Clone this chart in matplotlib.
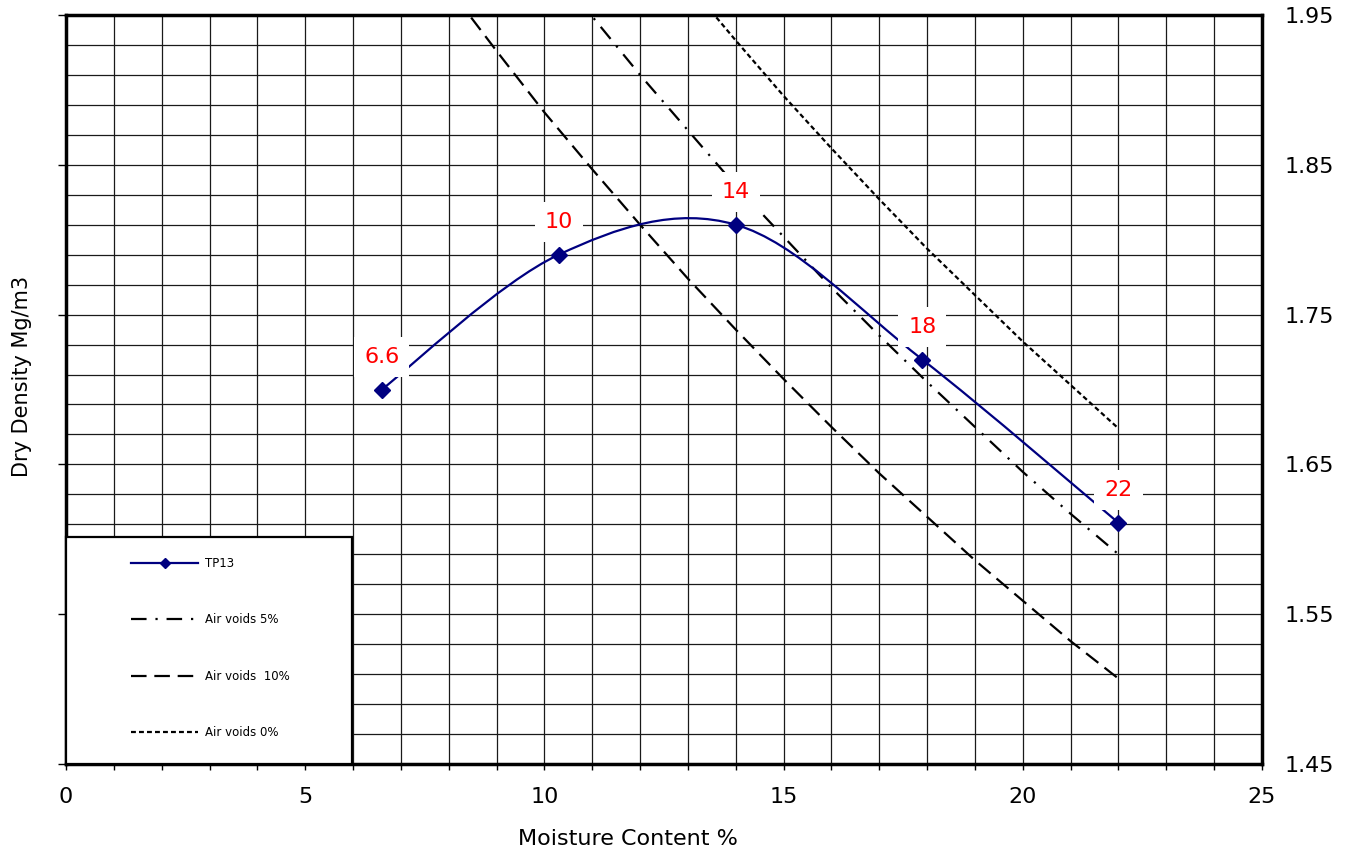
import numpy as np
import matplotlib
matplotlib.use("Agg")
import matplotlib.pyplot as plt
from matplotlib.path import Path
from matplotlib.patches import PathPatch, Rectangle
from matplotlib.lines import Line2D
from matplotlib.ticker import MultipleLocator, FixedLocator, FormatStrFormatter

plt.rcParams['font.family'] = ['DejaVu Sans']

# TP13 compaction test results
moisture = [6.6, 10.3, 14.0, 17.9, 22.0]
dry_density = [1.700, 1.790, 1.810, 1.720, 1.611]
point_labels = ["6.6", "10", "14", "18", "22"]

# Air voids lines (moisture %, dry density Mg/m3)
av0_moisture = [13, 14, 15, 16, 17, 18, 19, 20, 21, 22]
av0_density = [1.971, 1.933, 1.896, 1.861, 1.827, 1.794, 1.763, 1.732, 1.703, 1.674]
av5_moisture = [10, 11, 12, 13, 14, 15, 16, 17, 18, 19, 20, 21, 22]
av5_density = [1.990, 1.949, 1.910, 1.873, 1.836, 1.802, 1.768, 1.736, 1.705,
               1.675, 1.645, 1.617, 1.590]
av10_moisture = [8, 9, 10, 11, 12, 13, 14, 15, 16, 17, 18, 19, 20, 21, 22]
av10_density = [1.968, 1.926, 1.885, 1.847, 1.810, 1.774, 1.740, 1.707, 1.675,
                1.644, 1.615, 1.586, 1.559, 1.532, 1.507]

x_major = [0, 5, 10, 15, 20, 25]
y_major = [1.45, 1.55, 1.65, 1.75, 1.85, 1.95]

NAVY = "#000080"

fig = plt.figure(figsize=(13.52, 8.52), dpi=100)
ax = fig.add_axes([66 / 1352, 1 - 764 / 852, 1196 / 1352, 749 / 852])
ax.set_xlim(0, 25)
ax.set_ylim(1.45, 1.95)

# grid every 1 % moisture and every 0.02 Mg/m3
ax.xaxis.set_major_locator(FixedLocator(x_major))
ax.xaxis.set_minor_locator(MultipleLocator(1))
ax.yaxis.set_major_locator(FixedLocator(y_major))
ax.yaxis.set_minor_locator(FixedLocator(np.arange(1.47, 1.95, 0.02)))
ax.yaxis.set_major_formatter(FormatStrFormatter('%.2f'))
ax.grid(True, which='both', color='#1a1a1a', linewidth=0.9)
ax.set_axisbelow(True)

ax.tick_params(axis='x', which='both', direction='out', length=4.5, width=1,
               labelsize=16, pad=12)
ax.tick_params(axis='y', which='major', direction='out', length=6, width=1,
               left=True, right=False, labelleft=False, labelright=True,
               labelsize=16, pad=10.5)
ax.tick_params(axis='y', which='minor', left=False, right=False)

for s in ax.spines.values():
    s.set_linewidth(2.5)
    s.set_color('black')

# smoothed TP13 curve (cubic Bezier through the test points)
pts = np.column_stack([moisture, dry_density])
ext = np.vstack([pts[0], pts, pts[-1]])
verts = [pts[0]]
codes = [Path.MOVETO]
for i in range(len(pts) - 1):
    p0, p1, p2, p3 = ext[i], ext[i + 1], ext[i + 2], ext[i + 3]
    verts += [p1 + (p2 - p0) / 6, p2 - (p3 - p1) / 6, p2]
    codes += [Path.CURVE4] * 3
ax.add_patch(PathPatch(Path(verts, codes), fill=False, edgecolor=NAVY,
                       linewidth=1.6, zorder=3))
ax.plot(moisture, dry_density, linestyle='none', marker='D', markersize=8,
        color=NAVY, zorder=4)

ax.plot(av5_moisture, av5_density, color='black', linewidth=1.6,
        dashes=(7, 4, 1, 4), zorder=2)
ax.plot(av10_moisture, av10_density, color='black', linewidth=1.6,
        dashes=(7, 3.5), zorder=2)
ax.plot(av0_moisture, av0_density, color='black', linewidth=1.6,
        dashes=(2.2, 1.4), zorder=2)

for xv, yv, txt in zip(moisture, dry_density, point_labels):
    ax.annotate(txt, (xv, yv), xytext=(0, 23.5), textcoords='offset points',
                ha='center', va='center', fontsize=16, color='red', zorder=6,
                bbox=dict(boxstyle='square,pad=0.45', facecolor='white',
                          edgecolor='none'))

# legend panel
ax.add_patch(Rectangle((0, 0), 286 / 1196, 227 / 749, transform=ax.transAxes,
                       facecolor='white', edgecolor='black', linewidth=1.6,
                       zorder=7, clip_on=False))
handles = [
    Line2D([], [], color=NAVY, linewidth=1.6, marker='D', markersize=5),
    Line2D([], [], color='black', linewidth=1.6, dashes=(7, 4, 1, 4)),
    Line2D([], [], color='black', linewidth=1.6, dashes=(7, 3.5)),
    Line2D([], [], color='black', linewidth=1.6, dashes=(2.2, 1.4)),
]
labels = ["TP13", "Air voids 5%", "Air voids  10%", "Air voids 0%"]
leg = ax.legend(handles, labels, loc='upper left',
                bbox_to_anchor=((131 - 66) / 1196, (764 - 557) / 749),
                frameon=False, borderpad=0, borderaxespad=0, fontsize=8.5,
                handlelength=5.7, handletextpad=0.6, labelspacing=3.67,
                numpoints=1)
leg.set_zorder(8)

ax.set_xlabel("Moisture Content %", fontsize=16)
ax.xaxis.set_label_coords(0.47, -0.0868)
ax.set_ylabel("Dry Density Mg/m3", fontsize=15)
ax.yaxis.set_label_position('left')
ax.yaxis.set_label_coords(-0.0284, 0.517)

fig.savefig("out.png", dpi=100)
